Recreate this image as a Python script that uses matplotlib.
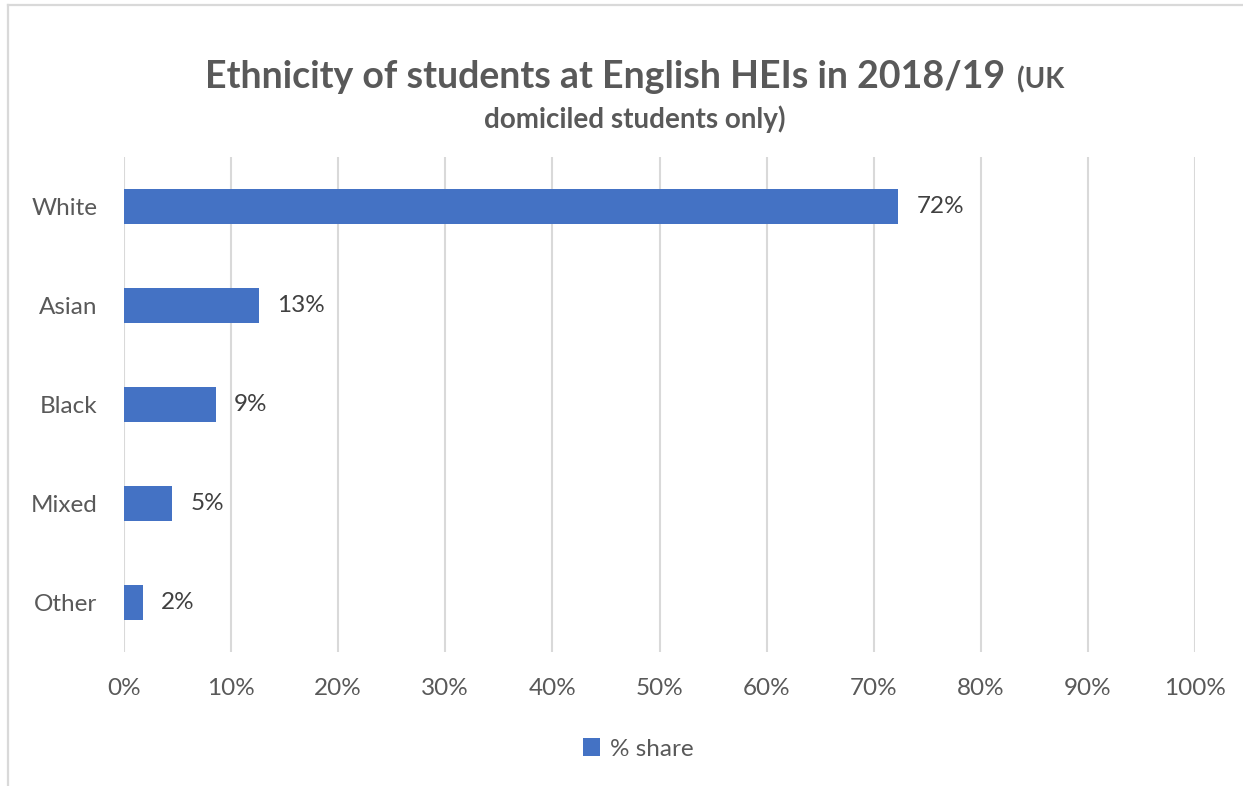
import matplotlib.pyplot as plt

# data
categories = ['White', 'Asian', 'Black', 'Mixed', 'Other']
share = [72.3, 12.6, 8.6, 4.5, 1.8]
value_labels = ['72%', '13%', '9%', '5%', '2%']
ticks = list(range(0, 101, 10))
tick_labels = [f'{t}%' for t in ticks]

BAR = '#4472C4'
GREY = '#595959'
GRID = '#D9D9D9'

plt.rcParams['font.family'] = ['Lato', 'DejaVu Sans']

W, H = 1243, 786
fig = plt.figure(figsize=(W / 100, H / 100), dpi=100)
fig.patch.set_facecolor('white')

# chart border (only top and left edges visible in the screenshot)
fig.add_artist(plt.Line2D([8 / W, 8 / W], [0, 1 - 5 / H], color=GRID, lw=1.6, transform=fig.transFigure))
fig.add_artist(plt.Line2D([8 / W, 1], [1 - 5 / H, 1 - 5 / H], color=GRID, lw=1.6, transform=fig.transFigure))

ax = fig.add_axes([124 / W, (H - 652) / H, (1195 - 124) / W, (652 - 157) / H])

y = list(range(len(categories)))
bars = ax.barh(y, share, height=0.35, color=BAR, label='% share', zorder=3)

for b, lab in zip(bars, value_labels):
    ax.annotate(lab, (b.get_width(), b.get_y() + b.get_height() / 2),
                xytext=(13, 0), textcoords='offset points',
                va='center', ha='left', fontsize=17.5, color='#404040')

ax.set_xlim(0, 100)
ax.set_ylim(len(categories) - 0.5, -0.5)
ax.set_xticks(ticks)
ax.set_xticklabels(tick_labels)
ax.set_yticks(y)
ax.set_yticklabels(categories)
ax.tick_params(axis='both', length=0, labelsize=17.5, labelcolor=GREY)
ax.tick_params(axis='x', pad=19)
ax.tick_params(axis='y', pad=19)
ax.grid(axis='x', color=GRID, lw=1.5, zorder=0)
for s in ax.spines.values():
    s.set_visible(False)

# title: two sizes on the first line, centred together
t1 = fig.text(0, 1 - 88 / H, 'Ethnicity of students at English HEIs in 2018/19',
              fontsize=27, fontweight='bold', color=GREY, ha='left', va='baseline')
t2 = fig.text(0, 1 - 88 / H, '(UK', fontsize=20, fontweight='bold',
              color=GREY, ha='left', va='baseline')
fig.canvas.draw()
w1 = t1.get_window_extent().width
w2 = t2.get_window_extent().width
gap = 12
x0 = 635 - (w1 + gap + w2) / 2
t1.set_x(x0 / W)
t2.set_x((x0 + w1 + gap) / W)
fig.text(635 / W, 1 - 128 / H, 'domiciled students only)', fontsize=20,
         fontweight='bold', color=GREY, ha='center', va='baseline')

leg = fig.legend(loc='center', bbox_to_anchor=(638 / W, 1 - 749 / H), frameon=False,
                 fontsize=17.5, handlelength=0.7, handleheight=0.7, handletextpad=0.4)
for t in leg.get_texts():
    t.set_color(GREY)

fig.savefig('out.png', dpi=100, facecolor='white')
